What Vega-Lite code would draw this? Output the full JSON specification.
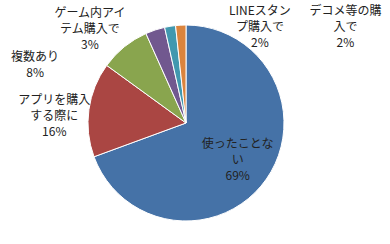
{
  "$schema": "https://vega.github.io/schema/vega-lite/v6.json",
  "width": 372,
  "height": 246,
  "autosize": {"type": "none"},
  "padding": {"left": 0, "right": 18, "top": 0, "bottom": 0},
  "background": "white",
  "config": {"view": {"stroke": null}, "text": {"font": "Noto Sans CJK JP", "fontSize": 12, "color": "#222222", "lineBreak": "\n", "lineHeight": 16, "align": "center", "baseline": "middle"}},
  "data": {
    "values": [
      {"k": "使ったことない", "v": 69.4, "o": 1, "label": "使ったことな\nい\n69%"},
      {"k": "アプリを購入する際に", "v": 15.6, "o": 2, "label": "アプリを購入\nする際に\n16%"},
      {"k": "複数あり", "v": 8.3, "o": 3, "label": "複数あり\n8%"},
      {"k": "ゲーム内アイテム購入で", "v": 3.2, "o": 4, "label": "ゲーム内アイ\nテム購入で\n3%"},
      {"k": "LINEスタンプ購入で", "v": 1.8, "o": 5, "label": "LINEスタン\nプ購入で\n2%"},
      {"k": "デコメ等の購入で", "v": 1.7, "o": 6, "label": "デコメ等の購\n入で\n2%"}
    ]
  },
  "encoding": {
    "theta": {"field": "v", "type": "quantitative", "stack": true},
    "order": {"field": "o", "type": "quantitative"},
    "detail": {"field": "k", "type": "nominal"}
  },
  "layer": [
    {
      "mark": {"type": "arc", "outerRadius": 98, "stroke": "white", "strokeWidth": 1},
      "encoding": {
        "color": {
          "field": "k", "type": "nominal", "legend": null,
          "scale": {
            "domain": ["使ったことない", "アプリを購入する際に", "複数あり", "ゲーム内アイテム購入で", "LINEスタンプ購入で", "デコメ等の購入で"],
            "range": ["#4572A7", "#AA4643", "#89A54E", "#71588F", "#4198AF", "#DB843D"]
          }
        }
      }
    },
    {
      "mark": {"type": "text", "radius": 63, "dy": -15},
      "encoding": {"text": {"condition": {"test": "datum.o == 1", "field": "label"}, "value": ""}}
    },
    {
      "mark": {"type": "text", "radius": 135, "dx": 2, "dy": -4},
      "encoding": {"text": {"condition": {"test": "datum.o == 2", "field": "label"}, "value": ""}}
    },
    {
      "mark": {"type": "text", "radius": 130, "dx": -69, "dy": 35},
      "encoding": {"text": {"condition": {"test": "datum.o == 3", "field": "label"}, "value": ""}}
    },
    {
      "mark": {"type": "text", "radius": 105, "dx": -63, "dy": -10},
      "encoding": {"text": {"condition": {"test": "datum.o == 4", "field": "label"}, "value": ""}}
    },
    {
      "mark": {"type": "text", "radius": 105, "dx": 91, "dy": -8},
      "encoding": {"text": {"condition": {"test": "datum.o == 5", "field": "label"}, "value": ""}}
    },
    {
      "mark": {"type": "text", "radius": 105, "dx": 165, "dy": -7},
      "encoding": {"text": {"condition": {"test": "datum.o == 6", "field": "label"}, "value": ""}}
    }
  ]
}
